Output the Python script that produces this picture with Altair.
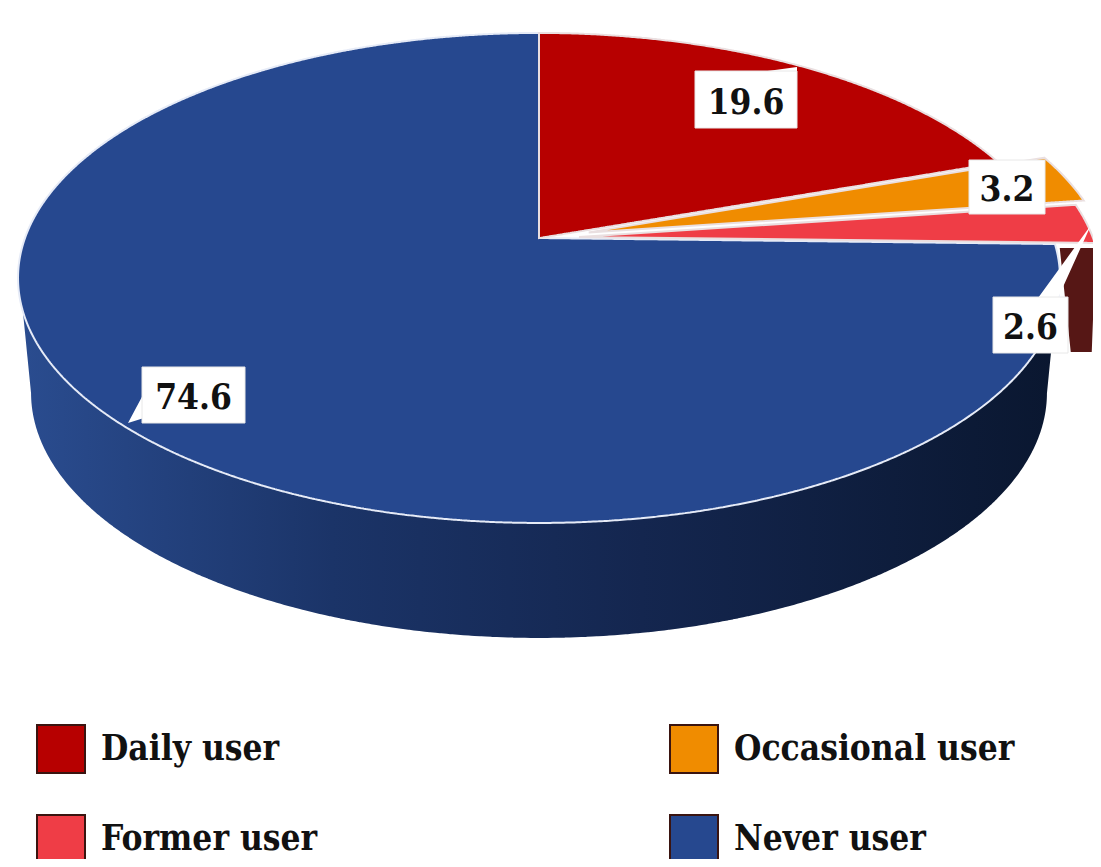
import numpy as np
import pandas as pd
import altair as alt

# ---- data
categories = ["Daily user", "Occasional user", "Former user", "Never user"]
values = [19.6, 3.2, 2.6, 74.6]
label_texts = ["19.6", "3.2", "2.6", "74.6"]
colors = ["#b70000", "#f08c00", "#ef3d46", "#26488f"]
explode = [0.0, 0.10, 0.078, 0.0]

# ---- label boxes (left, right, top, bottom), pixel scale
box_left = [695, 969, 993, 142]
box_right = [797, 1045, 1068, 245]
box_top = [71, 160, 297, 367]
box_bottom = [128, 214, 353, 423]

# ---- perspective of the pie (the scales below are in page pixels)
CX, CY, BX, BY, K, DEPTH, SHRINK = 539.0, 238.0, 514.0, 238.5, 0.163, 115.0, 0.975
PW, PH = 1085, 851


def proj(X, Y):
    d = 1 + K * Y
    return CX + BX * X / d, CY - BY * Y / d


def rim(t_deg, off=(0.0, 0.0)):
    t = np.radians(t_deg)
    return proj(np.sin(t) + off[0], np.cos(t) + off[1])


def slice_poly(poly):
    """Vertical sections of a polygon so it can be drawn as an area mark."""
    pts = np.array(poly)
    xs = np.unique(np.concatenate([pts[:, 0], pts[:, 0] - 0.01, pts[:, 0] + 0.01]))
    xs = xs[(xs >= pts[:, 0].min()) & (xs <= pts[:, 0].max())]
    rows = []
    closed = np.vstack([pts, pts[:1]])
    for x in xs:
        ys = []
        for (x1, y1), (x2, y2) in zip(closed[:-1], closed[1:]):
            if x1 == x2:
                if x == x1:
                    ys += [y1, y2]
            elif min(x1, x2) <= x <= max(x1, x2):
                ys.append(y1 + (y2 - y1) * (x - x1) / (x2 - x1))
        if ys:
            rows.append({"x": x, "y": min(ys), "y2": max(ys)})
    return pd.DataFrame(rows)


scale_x = alt.Scale(domain=[8, 8 + PW], nice=False, zero=False)
scale_y = alt.Scale(domain=[8 + PH, 8], nice=False, zero=False)
X = alt.X("x:Q", scale=scale_x, axis=None)
Y = alt.Y("y:Q", scale=scale_y, axis=None)
Y2 = alt.Y2("y2:Q")

# side wall
top_l = [rim(t) for t in np.linspace(107, 253, 150)]
low = []
for t in np.linspace(99.5, 260.5, 300):
    px, py = rim(t)
    low.append((CX + (px - CX) * SHRINK, py + DEPTH))
wall_df = slice_poly(low + top_l[::-1])
wall = alt.Chart(wall_df).mark_area(
    color=alt.Gradient(
        gradient="linear", x1=0, x2=1, y1=0, y2=0,
        stops=[
            alt.GradientStop(color="#2a4c8f", offset=0),
            alt.GradientStop(color="#1b3468", offset=0.3),
            alt.GradientStop(color="#14264f", offset=0.6),
            alt.GradientStop(color="#0a1730", offset=1),
        ],
    )
).encode(x=X, y=Y, y2=Y2)

# slices of the top face
cum = np.cumsum([0] + values)
rows = []
corner_former = None
for cat, a, b, e in zip(categories, cum[:-1], cum[1:], explode):
    ta, tb = a * 3.6, b * 3.6
    tm = np.radians((ta + tb) / 2)
    off = (e * np.sin(tm), e * np.cos(tm))
    arc = [rim(t, off) for t in np.linspace(ta, tb, max(3, int(tb - ta) * 4))]
    df = slice_poly([proj(*off)] + arc)
    df["cat"] = cat
    rows.append(df)
    if cat == "Former user":
        corner_former = arc[-1]

color = alt.Color(
    "cat:N",
    scale=alt.Scale(domain=categories, range=colors),
    legend=alt.Legend(
        title=None, orient="none", legendX=28, legendY=716, columns=2,
        direction="horizontal", symbolType="square", symbolSize=2304,
        symbolStrokeColor="#3a1410", symbolStrokeWidth=2, symbolOpacity=1,
        labelFont="DejaVu Serif Condensed", labelFontWeight="bold", labelFontSize=35,
        labelColor="#111111", labelOffset=15, columnPadding=351, rowPadding=40,
        labelLimit=400, symbolOffset=0, clipHeight=50,
    ),
)

layers = [wall]

# front wall of the pulled-out slice
cx_, cy_ = corner_former
fw = slice_poly([(cx_ - 35, cy_ + 5), (cx_ + 1, cy_ + 5), (cx_ - 3, cy_ + 109), (cx_ - 24, cy_ + 109)])
layers.append(alt.Chart(fw).mark_area(color="#561715").encode(x=X, y=Y, y2=Y2))

# draw never-user first, then the others above it
for idx in [3, 0, 1, 2]:
    layers.append(
        alt.Chart(rows[idx]).mark_area(
            stroke="#eadfe0" if idx != 3 else "#e6ebf7", strokeWidth=2
        ).encode(x=X, y=Y, y2=Y2, color=color)
    )

# leader tips of the call-outs
tips = [
    [(760, 72), (797, 67), (797, 72)],
    [(1038, 298), (1091, 225), (1058, 298)],
    [(128, 423), (144, 393), (144, 418)],
]
for tip in tips:
    layers.append(alt.Chart(slice_poly(tip)).mark_area(color="#ffffff").encode(x=X, y=Y, y2=Y2))

box_df = pd.DataFrame({
    "x": box_left, "x2": box_right, "y": box_top, "y2": box_bottom, "t": label_texts,
})
box_df["cx"] = (box_df.x + box_df.x2) / 2
box_df["cy"] = (box_df.y + box_df.y2) / 2
layers.append(
    alt.Chart(box_df).mark_rect(fill="#ffffff", stroke="#e8e8e8", strokeWidth=1).encode(
        x=X, x2="x2:Q", y=Y, y2=Y2
    )
)
layers.append(
    alt.Chart(box_df).mark_text(
        font="DejaVu Serif Condensed", fontWeight="bold", fontSize=35, color="#111111",
        align="center", baseline="middle", dy=3,
    ).encode(
        x=alt.X("cx:Q", scale=scale_x, axis=None),
        y=alt.Y("cy:Q", scale=scale_y, axis=None),
        text="t:N",
    )
)

chart = (
    alt.layer(*layers)
    .properties(width=PW, height=PH, padding=0, autosize=alt.AutoSizeParams(type="none"), background="#ffffff")
    .configure_view(stroke=None)
)
chart.save("out.html", embed_options={"renderer": "svg", "actions": False})
